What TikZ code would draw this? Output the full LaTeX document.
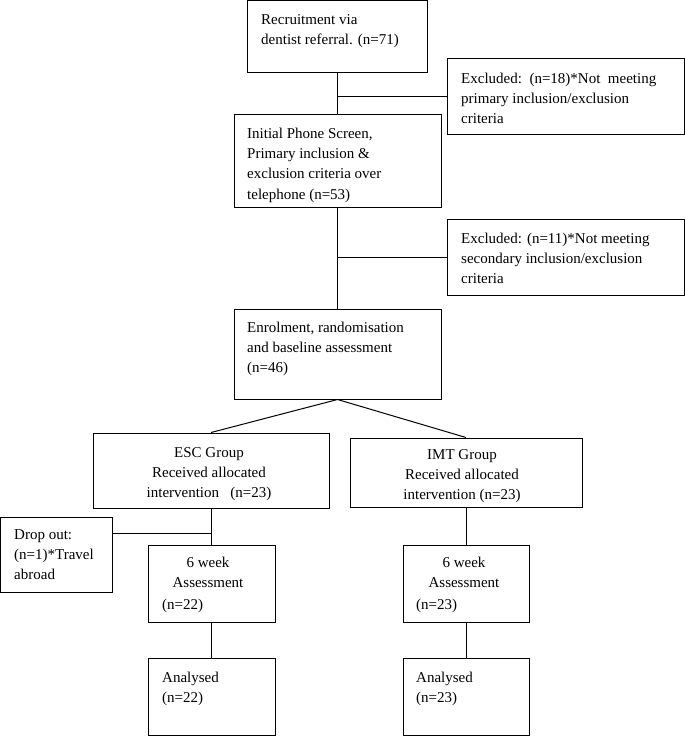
\documentclass[tikz,border=0pt]{standalone}
\usepackage{fontspec}
\setmainfont{Liberation Serif}
\begin{document}
\begin{tikzpicture}[x=1pt,y=-1pt,
  box/.style={draw=black, line width=1pt, inner sep=0pt},
  conn/.style={draw=black, line width=1pt},
  txt/.style={inner sep=0pt, font=\fontsize{15}{20.3}\selectfont, align=left, anchor=north west},
  ctxt/.style={inner sep=0pt, font=\fontsize{15}{20.3}\selectfont, align=center, anchor=north}]
\useasboundingbox (0,0) rectangle (685,736);

% boxes
\node[box, minimum width=180, minimum height=71.2] (b1) at (337,36.4) {};
\node[box, minimum width=237, minimum height=76] (e1) at (565.5,96) {};
\node[box, minimum width=207, minimum height=93] (b2) at (337.5,160.5) {};
\node[box, minimum width=237, minimum height=76] (e2) at (565.5,257) {};
\node[box, minimum width=207, minimum height=90] (b3) at (337.5,354) {};
\node[box, minimum width=236, minimum height=75] (esc) at (211,470.5) {};
\node[box, minimum width=232, minimum height=69] (imt) at (466,472.5) {};
\node[box, minimum width=111.2, minimum height=75] (drop) at (56.4,554.5) {};
\node[box, minimum width=127, minimum height=77] (w6e) at (211.5,583.5) {};
\node[box, minimum width=126, minimum height=77] (w6i) at (466,583.5) {};
\node[box, minimum width=127, minimum height=77] (ane) at (211.5,696.5) {};
\node[box, minimum width=126, minimum height=77] (ani) at (466,696.5) {};

% texts
\node[txt] (t1) at (261,9.8) {\strut Recruitment via\\dentist referral. (n=71)};
\node[txt] (te1) at (461,68.8) {\strut Excluded:\ \ (n=18)*Not\ \ meeting\\primary inclusion/exclusion\\criteria};
\node[txt] (t2) at (247,123.8) {\strut Initial Phone Screen,\\Primary inclusion \&\\exclusion criteria over\\telephone (n=53)};
\node[txt] (te2) at (461,228.8) {\strut Excluded: (n=11)*Not meeting\\secondary inclusion/exclusion\\criteria};
\node[txt] (t3) at (247,317.8) {\strut Enrolment, randomisation\\and baseline assessment\\(n=46)};
\node[ctxt] (tesc) at (209,442.8) {\strut ESC Group\\Received allocated\\intervention\ \ \ (n=23)};
\node[ctxt] (timt) at (462,444.8) {\strut IMT Group\\Received allocated\\intervention (n=23)};
\node[txt] (tdrop) at (14,524.8) {\strut Drop out:\\(n=1)*Travel\\abroad};
\node[ctxt] (tw6e) at (208,552.8) {\strut 6 week\\Assessment};
\node[txt] (tw6en) at (162,594.8) {\strut (n=22)};
\node[ctxt] (tw6i) at (464,552.8) {\strut 6 week\\Assessment};
\node[txt] (tw6in) at (416,594.8) {\strut (n=23)};
\node[txt] (tane) at (162,667.8) {\strut Analysed\\(n=22)};
\node[txt] (tani) at (416,667.8) {\strut Analysed\\(n=23)};

% connectors
\draw[conn] (b1.south) -- (b1.south |- b2.north);
\coordinate (j1) at (b1.south |- e1.west);
\draw[conn] (j1) -- (e1.west);
\draw[conn] (b2.south) -- (b2.south |- b3.north);
\coordinate (j2) at (b2.south |- e2.west);
\draw[conn] (j2) -- (e2.west);
\draw[conn] (b3.south) -- (esc.north);
\draw[conn] (b3.south) -- (imt.north);
\draw[conn] (esc.south) -- (esc.south |- w6e.north);
\coordinate (j3) at (211,533);
\draw[conn] (drop.east |- j3) -- (j3);
\draw[conn] (imt.south) -- (imt.south |- w6i.north);
\draw[conn] (w6e.south) -- (w6e.south |- ane.north);
\draw[conn] (w6i.south) -- (w6i.south |- ani.north);
\end{tikzpicture}
\end{document}
